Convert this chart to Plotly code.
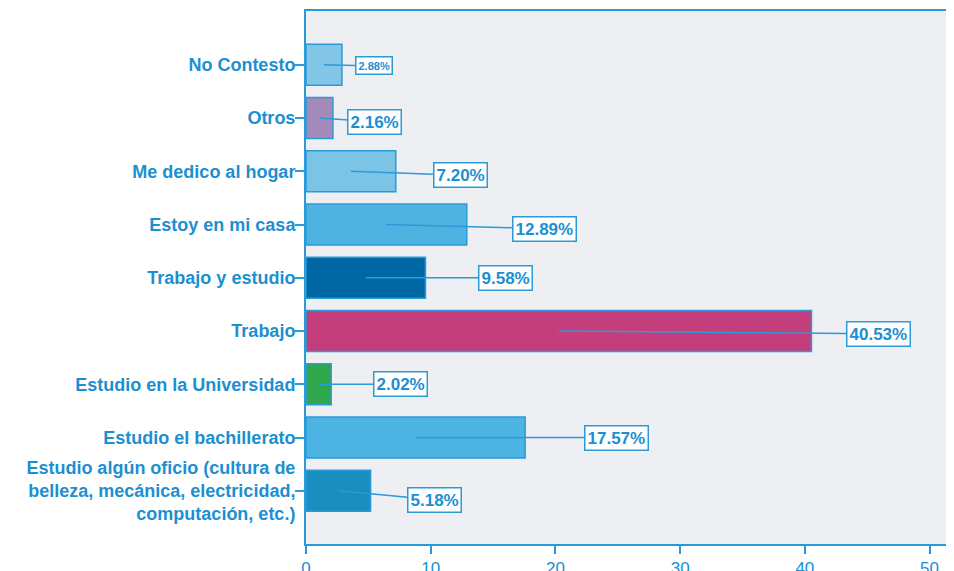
import plotly.graph_objects as go

# Data (bottom to top)
categories = [
    "Estudio algún oficio (cultura de<br>belleza, mecánica, electricidad,<br>computación, etc.)",
    "Estudio el bachillerato",
    "Estudio en la Universidad",
    "Trabajo",
    "Trabajo y estudio",
    "Estoy en mi casa",
    "Me dedico al hogar",
    "Otros",
    "No Contesto",
]
values = [5.18, 17.57, 2.02, 40.53, 9.58, 12.89, 7.20, 2.16, 2.88]
bar_colors = ["#1a8fbf", "#4db3e3", "#2ea84a", "#c43e7c", "#0067a5",
              "#4fb3e1", "#7cc4e6", "#a48ab8", "#82c5e6"]
value_labels = ["5.18%", "17.57%", "2.02%", "40.53%", "9.58%",
                "12.89%", "7.20%", "2.16%", "2.88%"]

# label box placement (layout only)
label_center_x = [10.3, 24.9, 7.6, 45.9, 16.0, 19.1, 12.35, 5.53, 5.45]
label_drop = [0.17, 0.0, 0.0, 0.05, 0.0, 0.075, 0.075, 0.075, 0.02]
label_size = [17, 17, 17, 17, 17, 17, 17, 17, 11]

blue = "#1b8fd2"
line_blue = "#2a9ad8"

fig = go.Figure()
fig.add_trace(go.Bar(
    x=values, y=categories, orientation="h",
    marker=dict(color=bar_colors, line=dict(color=line_blue, width=1.5)),
    width=0.77, hoverinfo="x+y",
))

for i, (v, lab) in enumerate(zip(values, value_labels)):
    fig.add_annotation(
        x=v / 2, y=i, xref="x", yref="y",
        ax=label_center_x[i], ay=i - label_drop[i], axref="x", ayref="y",
        text="<b>%s</b>" % lab, showarrow=True, arrowhead=0,
        arrowwidth=1.5, arrowcolor=line_blue, standoff=0, startstandoff=0,
        font=dict(family="Liberation Sans, Arial, sans-serif", size=label_size[i], color=blue),
        bgcolor="white", bordercolor=line_blue, borderwidth=1.5, borderpad=2,
    )

fig.update_layout(
    width=954, height=571, autosize=False,
    margin=dict(l=298, r=0, t=3, b=35, autoexpand=False),
    paper_bgcolor="white", plot_bgcolor="#eeeff3",
    showlegend=False,
    font=dict(family="Liberation Sans, Arial, sans-serif", color=blue),
)
fig.update_xaxes(
    range=[0, 52.6], tickvals=[0, 10, 20, 30, 40, 50],
    showgrid=False, zeroline=False, automargin=False,
    showline=True, linecolor=line_blue, linewidth=2, mirror=True,
    ticks="outside", ticklen=8, tickwidth=2, tickcolor=line_blue,
    tickfont=dict(size=17, color=blue),
)
fig.update_yaxes(
    type="category", categoryorder="array", categoryarray=categories,
    range=[-1.0, 9.01], showgrid=False, zeroline=False, automargin=False,
    showline=True, linecolor=line_blue, linewidth=2,
    ticks="outside", ticklen=9, tickwidth=2, tickcolor=line_blue,
    tickfont=dict(size=18, color=blue, family="Liberation Sans, Arial, sans-serif", weight="bold"),
    ticklabelstandoff=-4,
)

fig.write_html("out.html", config={"responsive": False})
